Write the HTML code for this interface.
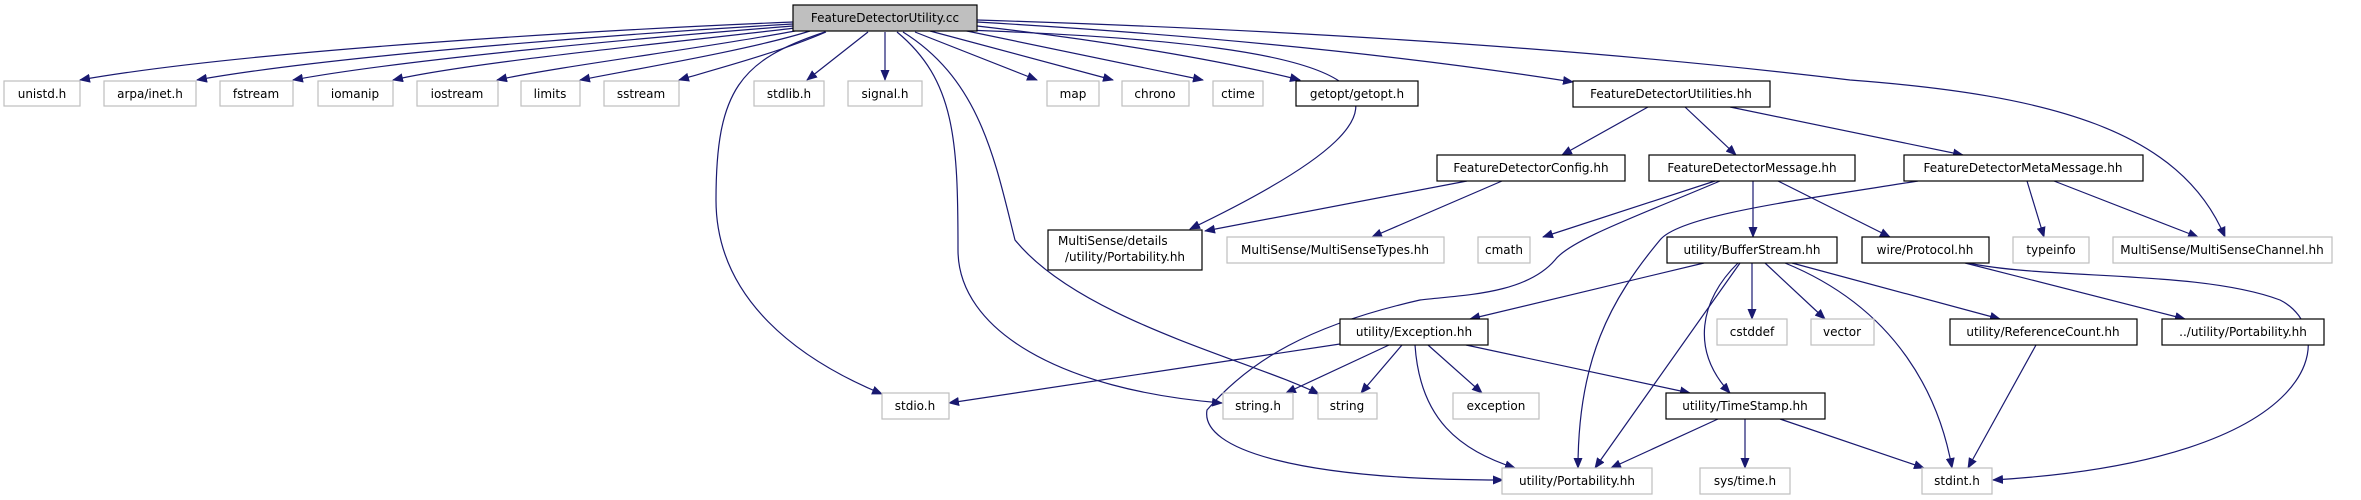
<!DOCTYPE html>
<html><head><meta charset="utf-8"><style>
html,body{margin:0;padding:0;background:#fff;}
svg{display:block;}
text{font-family:"DejaVu Sans","Liberation Sans",sans-serif;font-size:12px;fill:#000;text-anchor:middle;}
.g rect.b{fill:#fff;stroke:#bfbfbf;stroke-width:1.2;}
.k rect.b{fill:#fff;stroke:#000;stroke-width:1.2;}
path.e{fill:none;stroke:#191970;stroke-width:1.2;}
</style></head><body>
<svg width="2361" height="500" viewBox="0 0 2361 500" xmlns="http://www.w3.org/2000/svg">
<defs><marker id="a" markerUnits="userSpaceOnUse" markerWidth="11" markerHeight="9" refX="10" refY="4.5" orient="auto"><path d="M0,0 L11,4.5 L0,9 z" fill="#191970"/></marker></defs>
<g id="edges">
<path class="e" marker-end="url(#a)" d="M793,22 C600,30 250,50 80,80"/>
<path class="e" marker-end="url(#a)" d="M793,24 C620,34 330,56 197,80"/>
<path class="e" marker-end="url(#a)" d="M793,26 C640,38 400,60 293,80"/>
<path class="e" marker-end="url(#a)" d="M795,28 C680,42 470,62 393,80"/>
<path class="e" marker-end="url(#a)" d="M800,30 C720,46 560,66 497,80"/>
<path class="e" marker-end="url(#a)" d="M810,31 C750,50 630,70 580,80"/>
<path class="e" marker-end="url(#a)" d="M826,32 C780,52 720,68 679,80"/>
<path class="e" marker-end="url(#a)" d="M868,32 L807,80"/>
<path class="e" marker-end="url(#a)" d="M885,32 L885,80"/>
<path class="e" marker-end="url(#a)" d="M915,32 L1037,80"/>
<path class="e" marker-end="url(#a)" d="M930,31 L1113,80"/>
<path class="e" marker-end="url(#a)" d="M962,30 L1203,80"/>
<path class="e" marker-end="url(#a)" d="M977,26 C1100,40 1220,60 1300,80"/>
<path class="e" marker-end="url(#a)" d="M977,22 C1200,35 1400,55 1573,82"/>
<path class="e" marker-end="url(#a)" d="M977,20 C1300,30 1600,50 1850,80 C2050,95 2180,130 2225,237"/>
<path class="e" marker-end="url(#a)" d="M825,32 C740,60 716,90 716,200 C716,300 800,360 882,394"/>
<path class="e" marker-end="url(#a)" d="M897,32 C955,80 958,140 958,250 C958,330 1060,390 1222,403"/>
<path class="e" marker-end="url(#a)" d="M903,32 C980,80 995,160 1015,240 C1080,320 1250,360 1319,394"/>
<path class="e" marker-end="url(#a)" d="M965,30 C1380,45 1480,90 1190,229"/>
<path class="e" marker-end="url(#a)" d="M1648,107 L1562,155"/>
<path class="e" marker-end="url(#a)" d="M1685,107 L1736,155"/>
<path class="e" marker-end="url(#a)" d="M1730,107 L1963,155"/>
<path class="e" marker-end="url(#a)" d="M1467,181 L1205,231"/>
<path class="e" marker-end="url(#a)" d="M1502,181 L1372,237"/>
<path class="e" marker-end="url(#a)" d="M1715,181 L1543,237"/>
<path class="e" marker-end="url(#a)" d="M1720,181 C1640,215 1570,240 1555,260 C1525,295 1460,295 1420,300 C1310,325 1250,360 1207,410 C1200,450 1300,480 1503,480"/>
<path class="e" marker-end="url(#a)" d="M1753,181 L1753,237"/>
<path class="e" marker-end="url(#a)" d="M1778,181 L1890,237"/>
<path class="e" marker-end="url(#a)" d="M1918,181 C1800,200 1680,215 1660,240 C1610,300 1578,360 1578,468"/>
<path class="e" marker-end="url(#a)" d="M2027,181 L2044,237"/>
<path class="e" marker-end="url(#a)" d="M2054,181 L2198,237"/>
<path class="e" marker-end="url(#a)" d="M1704,263 L1470,319"/>
<path class="e" marker-end="url(#a)" d="M1740,263 L1595,468"/>
<path class="e" marker-end="url(#a)" d="M1738,263 C1700,300 1690,350 1730,393"/>
<path class="e" marker-end="url(#a)" d="M1752,263 L1752,319"/>
<path class="e" marker-end="url(#a)" d="M1765,263 L1825,319"/>
<path class="e" marker-end="url(#a)" d="M1785,263 C1900,310 1940,400 1952,468"/>
<path class="e" marker-end="url(#a)" d="M1792,263 L2000,319"/>
<path class="e" marker-end="url(#a)" d="M1965,263 L2185,319"/>
<path class="e" marker-end="url(#a)" d="M1968,263 C2050,280 2200,270 2280,300 C2340,330 2330,460 1993,480"/>
<path class="e" marker-end="url(#a)" d="M1340,344 L949,403"/>
<path class="e" marker-end="url(#a)" d="M1389,345 L1286,393"/>
<path class="e" marker-end="url(#a)" d="M1402,345 L1361,393"/>
<path class="e" marker-end="url(#a)" d="M1415,345 C1420,420 1460,450 1515,468"/>
<path class="e" marker-end="url(#a)" d="M1428,345 L1482,393"/>
<path class="e" marker-end="url(#a)" d="M1466,345 L1690,393"/>
<path class="e" marker-end="url(#a)" d="M1718,419 L1611,468"/>
<path class="e" marker-end="url(#a)" d="M1745,419 L1745,468"/>
<path class="e" marker-end="url(#a)" d="M1780,419 L1924,468"/>
<path class="e" marker-end="url(#a)" d="M2036,345 L1968,468"/>
</g>
<g id="nodes">
<g><rect x="793" y="5" width="184" height="26" fill="#bfbfbf" stroke="#000" stroke-width="1.2"/><text x="885" y="22">FeatureDetectorUtility.cc</text></g>
<g class="g">
<rect class="b" x="4" y="81" width="76" height="25"/><text x="42" y="98">unistd.h</text>
<rect class="b" x="104" y="81" width="92" height="25"/><text x="150" y="98">arpa/inet.h</text>
<rect class="b" x="220" y="81" width="73" height="25"/><text x="256" y="98">fstream</text>
<rect class="b" x="318" y="81" width="75" height="25"/><text x="355" y="98">iomanip</text>
<rect class="b" x="417" y="81" width="81" height="25"/><text x="457" y="98">iostream</text>
<rect class="b" x="521" y="81" width="59" height="25"/><text x="550" y="98">limits</text>
<rect class="b" x="604" y="81" width="75" height="25"/><text x="641" y="98">sstream</text>
<rect class="b" x="754" y="81" width="70" height="25"/><text x="789" y="98">stdlib.h</text>
<rect class="b" x="848" y="81" width="74" height="25"/><text x="885" y="98">signal.h</text>
<rect class="b" x="1047" y="81" width="52" height="25"/><text x="1073" y="98">map</text>
<rect class="b" x="1122" y="81" width="67" height="25"/><text x="1155" y="98">chrono</text>
<rect class="b" x="1213" y="81" width="50" height="25"/><text x="1238" y="98">ctime</text>
<rect class="b" x="1227" y="237" width="217" height="26"/><text x="1335" y="254">MultiSense/MultiSenseTypes.hh</text>
<rect class="b" x="1478" y="237" width="52" height="26"/><text x="1504" y="254">cmath</text>
<rect class="b" x="2013" y="237" width="76" height="26"/><text x="2051" y="254">typeinfo</text>
<rect class="b" x="2113" y="237" width="219" height="26"/><text x="2222" y="254">MultiSense/MultiSenseChannel.hh</text>
<rect class="b" x="1717" y="319" width="70" height="26"/><text x="1752" y="336">cstddef</text>
<rect class="b" x="1811" y="319" width="63" height="26"/><text x="1842" y="336">vector</text>
<rect class="b" x="882" y="393" width="67" height="26"/><text x="915" y="410">stdio.h</text>
<rect class="b" x="1223" y="393" width="70" height="26"/><text x="1258" y="410">string.h</text>
<rect class="b" x="1318" y="393" width="59" height="26"/><text x="1347" y="410">string</text>
<rect class="b" x="1453" y="393" width="86" height="26"/><text x="1496" y="410">exception</text>
<rect class="b" x="1502" y="468" width="150" height="26"/><text x="1577" y="485">utility/Portability.hh</text>
<rect class="b" x="1700" y="468" width="90" height="26"/><text x="1745" y="485">sys/time.h</text>
<rect class="b" x="1922" y="468" width="70" height="26"/><text x="1957" y="485">stdint.h</text>
</g>
<g class="k">
<rect class="b" x="1296" y="81" width="122" height="25"/><text x="1357" y="98">getopt/getopt.h</text>
<rect class="b" x="1573" y="81" width="197" height="26"/><text x="1671" y="98">FeatureDetectorUtilities.hh</text>
<rect class="b" x="1437" y="155" width="188" height="26"/><text x="1531" y="172">FeatureDetectorConfig.hh</text>
<rect class="b" x="1649" y="155" width="206" height="26"/><text x="1752" y="172">FeatureDetectorMessage.hh</text>
<rect class="b" x="1904" y="155" width="239" height="26"/><text x="2023" y="172">FeatureDetectorMetaMessage.hh</text>
<rect class="b" x="1048" y="230" width="154" height="40"/><text x="1058" y="245" style="text-anchor:start">MultiSense/details</text><text x="1125" y="261">/utility/Portability.hh</text>
<rect class="b" x="1667" y="237" width="170" height="26"/><text x="1752" y="254">utility/BufferStream.hh</text>
<rect class="b" x="1862" y="237" width="127" height="26"/><text x="1925" y="254">wire/Protocol.hh</text>
<rect class="b" x="1340" y="319" width="148" height="26"/><text x="1414" y="336">utility/Exception.hh</text>
<rect class="b" x="1950" y="319" width="187" height="26"/><text x="2043" y="336">utility/ReferenceCount.hh</text>
<rect class="b" x="2162" y="319" width="162" height="26"/><text x="2243" y="336">../utility/Portability.hh</text>
<rect class="b" x="1666" y="393" width="159" height="26"/><text x="1745" y="410">utility/TimeStamp.hh</text>
</g>
</g>
</svg>
</body></html>
